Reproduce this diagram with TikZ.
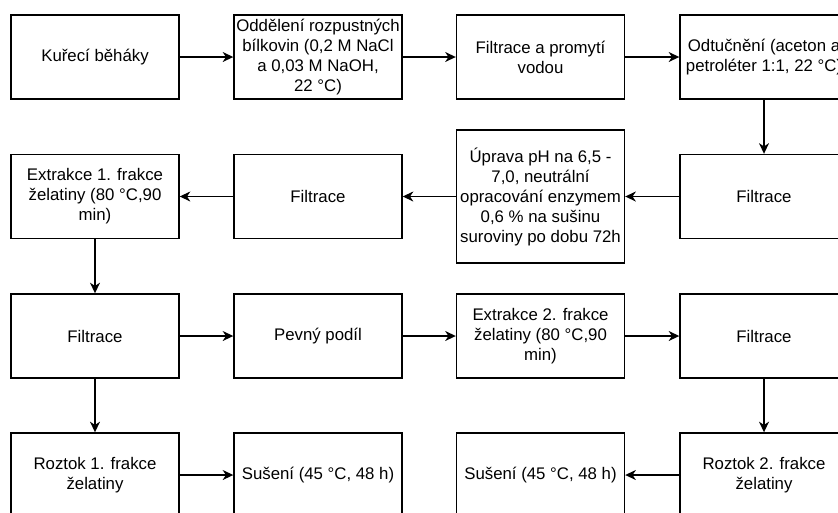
\documentclass[tikz,border=0pt]{standalone}
\usepackage{fontspec}
\setmainfont{Liberation Sans}
\usetikzlibrary{arrows.meta}
\begin{document}
\begin{tikzpicture}[x=0.75pt,y=-0.75pt,
  box/.style={draw, line width=1.05pt, minimum width=126pt, minimum height=63pt, align=center, inner sep=0pt, font=\fontsize{12.6}{15}\selectfont},
  tallbox/.style={box, minimum height=99.75pt},
  arr/.style={line width=1.05pt, -{Stealth[length=8pt,width=7.5pt,inset=2.5pt]}}]
\useasboundingbox (0,0) rectangle (838,512);
% row 1
\node[box] (a1) at (95,57) {Kuřecí běháky};
\node[box] (a2) at (318,57) {Oddělení rozpustných\\bílkovin (0,2 M NaCl\\a 0,03 M NaOH,\\22 °C)};
\node[box] (a3) at (540.5,57) {Filtrace a promytí\\vodou};
\node[box] (a4) at (764,57) {Odtučnění (aceton a\\petroléter 1:1, 22 °C)};
% row 2
\node[box] (b1) at (95,196.5) {Extrakce 1. frakce\\želatiny (80 °C,90\\min)};
\node[box] (b2) at (318,196.5) {Filtrace};
\node[tallbox] (b3) at (540.5,196.5) {Úprava pH na 6,5 -\\7,0, neutrální\\opracování enzymem\\0,6 \% na sušinu\\suroviny po dobu 72h};
\node[box] (b4) at (764,196.5) {Filtrace};
% row 3
\node[box] (c1) at (95,336) {Filtrace};
\node[box] (c2) at (318,336) {Pevný podíl};
\node[box] (c3) at (540.5,336) {Extrakce 2. frakce\\želatiny (80 °C,90\\min)};
\node[box] (c4) at (764,336) {Filtrace};
% row 4
\node[box] (d1) at (95,475) {Roztok 1. frakce\\želatiny};
\node[box] (d2) at (318,475) {Sušení (45 °C, 48 h)};
\node[box] (d3) at (540.5,475) {Sušení (45 °C, 48 h)};
\node[box] (d4) at (764,475) {Roztok 2. frakce\\želatiny};
% connectors
\draw[arr] (a1) -- (a2);
\draw[arr] (a2) -- (a3);
\draw[arr] (a3) -- (a4);
\draw[arr] (a4) -- (b4);
\draw[arr] (b4) -- (b3);
\draw[arr] (b3) -- (b2);
\draw[arr] (b2) -- (b1);
\draw[arr] (b1) -- (c1);
\draw[arr] (c1) -- (c2);
\draw[arr] (c2) -- (c3);
\draw[arr] (c3) -- (c4);
\draw[arr] (c1) -- (d1);
\draw[arr] (c4) -- (d4);
\draw[arr] (d1) -- (d2);
\draw[arr] (d4) -- (d3);
\end{tikzpicture}
\end{document}
